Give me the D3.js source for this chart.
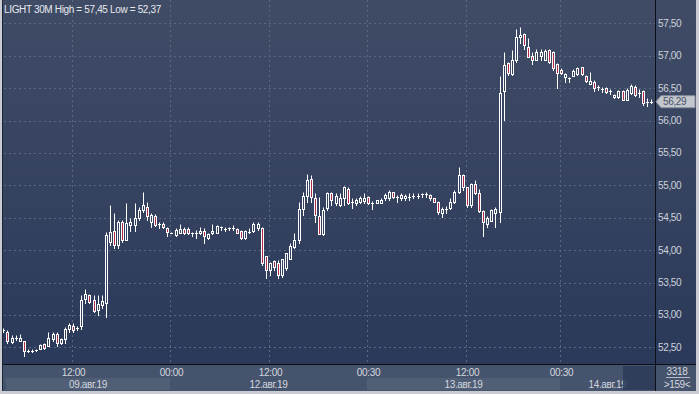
<!DOCTYPE html>
<html>
<head>
<meta charset="utf-8">
<script src="https://cdn.jsdelivr.net/npm/d3@7"></script>
<style>
  body { margin: 0; background: #c9ccd3; }
  text { font-family: "Liberation Sans", Arial, sans-serif; font-size: 10px; letter-spacing: -0.35px; }
</style>
</head>
<body>
<div id="chart"></div>
<script>
// 30M bars, LIGHT (crude)
const opens = [52.76,52.73,52.58,52.64,52.60,52.59,52.45,52.45,52.46,52.47,52.55,52.52,52.63,52.70,52.56,52.63,52.78,52.83,52.80,52.83,
  53.25,53.31,53.23,53.08,53.15,53.18,54.13,54.29,54.08,54.44,54.16,54.39,54.39,54.50,54.62,54.67,54.44,54.52,54.41,54.41,
  54.34,54.27,54.23,54.27,54.33,54.33,54.26,54.27,54.26,54.30,54.18,54.26,54.27,54.35,54.33,54.34,54.34,54.33,54.30,54.19,
  54.28,54.30,54.34,54.34,53.91,53.69,53.83,53.80,53.62,53.72,53.87,54.05,54.16,54.63,54.83,55.09,54.81,54.52,54.25,54.65,
  54.88,54.72,54.70,54.80,54.95,54.75,54.73,54.75,54.76,54.82,54.72,54.73,54.73,54.80,54.80,54.89,54.82,54.80,54.80,54.82,
  54.83,54.83,54.86,54.86,54.85,54.80,54.75,54.58,54.63,54.65,54.75,54.90,55.16,54.97,54.69,55.02,54.88,54.61,54.40,54.45,
  54.58,54.59,56.45,56.88,56.72,56.93,57.29,57.33,57.14,56.99,56.94,57.00,56.94,57.09,57.06,56.87,56.78,56.67,56.65,56.69,
  56.72,56.82,56.69,56.57,56.60,56.51,56.48,56.50,56.46,56.36,56.36,56.46,56.32,56.43,56.52,56.43,56.45,56.29,56.29];
const highs = [52.80,52.76,52.69,52.69,52.71,52.60,52.47,52.47,52.47,52.55,52.56,52.73,52.74,52.73,52.65,52.82,52.88,52.87,52.83,53.31,
  53.40,53.33,53.30,53.30,53.30,54.28,54.70,54.57,54.46,54.46,54.73,54.50,54.72,54.67,54.89,54.75,54.57,54.56,54.44,54.44,
  54.36,54.28,54.34,54.41,54.36,54.36,54.28,54.31,54.35,54.34,54.26,54.40,54.39,54.37,54.35,54.36,54.39,54.34,54.31,54.31,
  54.34,54.44,54.44,54.35,53.91,53.82,53.85,53.85,53.87,53.95,54.11,54.26,54.75,54.90,55.17,55.16,54.88,54.82,54.67,54.89,
  54.90,54.88,54.88,54.99,54.97,54.80,54.81,54.83,54.88,54.83,54.76,54.78,54.80,54.88,54.92,54.90,54.85,54.88,54.86,54.88,
  54.88,54.88,54.88,54.89,54.86,54.81,54.76,54.67,54.68,54.80,54.93,55.28,55.17,54.98,55.03,55.08,54.95,54.62,54.52,54.63,
  54.66,56.68,57.06,56.91,57.09,57.41,57.45,57.35,57.27,57.06,57.11,57.10,57.10,57.10,57.08,56.88,56.81,56.74,56.67,56.79,
  56.82,56.83,56.70,56.75,56.62,56.55,56.52,56.51,56.48,56.41,56.47,56.47,56.50,56.56,56.55,56.48,56.47,56.34,56.33];
const lows = [52.73,52.56,52.56,52.61,52.60,52.37,52.43,52.43,52.45,52.47,52.48,52.52,52.60,52.52,52.55,52.56,52.73,52.73,52.77,52.78,
  53.18,53.18,53.04,53.00,53.10,52.96,54.08,54.03,54.03,54.13,54.15,54.30,54.30,54.46,54.59,54.46,54.36,54.37,54.34,54.34,
  54.22,54.26,54.22,54.26,54.25,54.25,54.22,54.18,54.25,54.11,54.17,54.25,54.26,54.31,54.30,54.31,54.31,54.26,54.17,54.17,
  54.26,54.28,54.31,53.77,53.57,53.62,53.69,53.57,53.58,53.70,53.86,54.04,54.11,54.54,54.75,54.75,54.44,54.25,54.23,54.62,
  54.70,54.70,54.68,54.70,54.71,54.65,54.70,54.72,54.73,54.71,54.63,54.72,54.72,54.78,54.78,54.80,54.75,54.77,54.77,54.78,
  54.80,54.80,54.82,54.82,54.78,54.75,54.56,54.51,54.58,54.63,54.73,54.88,54.93,54.67,54.67,54.87,54.59,54.21,54.36,54.45,
  54.35,54.44,56.01,56.70,56.70,56.91,57.19,57.11,56.98,56.87,56.93,56.94,56.93,56.89,56.78,56.50,56.72,56.60,56.60,56.68,
  56.70,56.70,56.60,56.56,56.46,56.47,56.44,56.43,56.41,56.34,56.34,56.31,56.31,56.41,56.38,56.36,56.24,56.22,56.27];
const closes = [52.76,52.59,52.64,52.64,52.64,52.45,52.45,52.45,52.46,52.53,52.49,52.65,52.71,52.56,52.63,52.79,52.84,52.77,52.80,53.23,
  53.32,53.20,53.06,53.17,53.21,54.23,54.28,54.08,54.43,54.16,54.42,54.44,54.49,54.62,54.70,54.52,54.54,54.39,54.41,54.35,
  54.28,54.27,54.31,54.33,54.27,54.26,54.26,54.27,54.30,54.21,54.25,54.30,54.37,54.35,54.33,54.34,54.34,54.27,54.18,54.29,
  54.28,54.41,54.40,53.80,53.70,53.80,53.74,53.62,53.86,53.95,54.06,54.16,54.63,54.83,55.08,54.82,54.54,54.25,54.62,54.88,
  54.78,54.83,54.80,54.97,54.73,54.75,54.78,54.80,54.81,54.72,54.72,54.77,54.78,54.85,54.89,54.82,54.82,54.85,54.83,54.82,
  54.83,54.83,54.86,54.86,54.80,54.75,54.59,54.63,54.63,54.75,54.89,55.16,54.97,54.69,55.02,54.88,54.61,54.44,54.49,54.62,
  54.64,56.43,56.86,56.73,56.94,57.29,57.32,57.17,56.98,56.94,57.05,57.05,57.08,56.91,56.81,56.73,56.73,56.72,56.65,56.77,
  56.81,56.72,56.61,56.61,56.50,56.51,56.48,56.44,56.46,56.39,56.46,56.32,56.47,56.53,56.39,56.43,56.27,56.29,56.29];

const priceTicks = [52.5, 53, 53.5, 54, 54.5, 55, 55.5, 56, 56.5, 57, 57.5];
const timeTickIndex = [17, 41, 65, 89, 113, 136];
const timeTickText = ["12:00", "00:00", "12:00", "00:30", "12:00", "00:30"];
const dayStartIndex = [0, 41, 89, 136];
const dayLabels = ["09.авг.19", "12.авг.19", "13.авг.19", "14.авг.19"];
const titleText = "LIGHT 30M High = 57,45 Low = 52,37";
const totalBars = "3318";
const visibleBars = ">159<";
const lastPrice = 56.29;

const width = 699, height = 394;
const plotL = 2, plotR = 655, plotB = 364, axisB = 391, panelR = 696;

const fmt = v => d3.format(".2f")(v).replace(".", ",");

const svg = d3.select("#chart").append("svg")
  .attr("width", width).attr("height", height);

const defs = svg.append("defs");
const grad = defs.append("linearGradient").attr("id", "bg").attr("x1", 0).attr("y1", 0).attr("x2", 0).attr("y2", 1);
grad.append("stop").attr("offset", "0%").attr("stop-color", "#404c66");
grad.append("stop").attr("offset", "100%").attr("stop-color", "#2b395a");

// frame + backgrounds
svg.append("rect").attr("width", width).attr("height", height).attr("fill", "#c9ccd3");
svg.append("rect").attr("x", plotL).attr("y", 0).attr("width", panelR - plotL).attr("height", plotB)
  .attr("fill", "url(#bg)");
svg.append("rect").attr("x", plotL).attr("y", plotB).attr("width", panelR - plotL).attr("height", axisB - plotB)
  .attr("fill", "#46536c");

const x = d3.scaleLinear().domain([0, opens.length - 1]).range([3.3, 651.3]);
const y = d3.scaleLinear().domain([52.5, 57.5]).range([347.3, 23.3]);
const px = i => Math.round(x(i)) + 0.5;
const py = v => Math.round(y(v)) + 0.5;

// day bands on the axis strip
dayStartIndex.forEach((s, k) => {
  const x0 = k === 0 ? 6 : px(s) - 1.5;
  const x1 = k + 1 < dayStartIndex.length ? px(dayStartIndex[k + 1]) - 1.5 : plotR;
  if (k % 2 === 0) {
    svg.append("rect").attr("x", x0).attr("y", 378).attr("width", x1 - x0).attr("height", 12)
      .attr("fill", "#505e76");
  }
  svg.append("text").attr("x", (x0 + x1) / 2).attr("y", 387.5)
    .attr("text-anchor", "middle").attr("fill", "#d3d7df").text(dayLabels[k]);
});
// scroller box at the right end of the axis strip
svg.append("rect").attr("x", 623).attr("y", 366).attr("width", plotR - 623).attr("height", 24)
  .attr("fill", "#2d3b58").attr("opacity", 0.85);

// grid
const grid = svg.append("g").attr("stroke", "#5b6882").attr("stroke-dasharray", "2,3").attr("stroke-width", 1);
priceTicks.forEach(v => {
  grid.append("line").attr("x1", plotL + 2).attr("x2", plotR).attr("y1", py(v)).attr("y2", py(v));
});
timeTickIndex.forEach(i => {
  grid.append("line").attr("x1", px(i) - 1).attr("x2", px(i) - 1).attr("y1", 0).attr("y2", plotB);
});

// time tick labels
timeTickIndex.forEach((i, k) => {
  svg.append("text").attr("x", px(i)).attr("y", 375.5).attr("text-anchor", "middle")
    .attr("fill", "#d3d7df").text(timeTickText[k]);
});

// price axis labels
priceTicks.forEach(v => {
  svg.append("text").attr("x", 658).attr("y", y(v) + 3.5).attr("fill", "#cdd2db").text(fmt(v));
});

// candles
const candles = svg.append("g");
opens.forEach((o, i) => {
  const c = closes[i], h = highs[i], l = lows[i];
  const cx = px(i);
  const top = py(Math.max(o, c)), bot = py(Math.min(o, c));
  const up = c >= o;
  if (bot - top < 1) {
    candles.append("line").attr("x1", cx).attr("x2", cx).attr("y1", py(h)).attr("y2", py(l) + 0.5)
      .attr("stroke", "#ffffff");
    candles.append("line").attr("x1", cx - 1.5).attr("x2", cx + 1.5).attr("y1", top).attr("y2", top)
      .attr("stroke", "#ffffff");
    return;
  }
  if (py(h) < top) candles.append("line").attr("x1", cx).attr("x2", cx).attr("y1", py(h)).attr("y2", top)
    .attr("stroke", "#ffffff");
  if (py(l) > bot) candles.append("line").attr("x1", cx).attr("x2", cx).attr("y1", bot).attr("y2", py(l) + 0.5)
    .attr("stroke", "#ffffff");
  candles.append("rect").attr("x", cx - 1).attr("y", top).attr("width", 2).attr("height", bot - top)
    .attr("fill", up ? "#34415f" : "#b02a49").attr("stroke", "#ffffff").attr("stroke-width", 1);
});

// title
svg.append("text").attr("x", 4).attr("y", 13).attr("fill", "#e6e9ee").text(titleText);

// separators
svg.append("line").attr("x1", plotR + 0.5).attr("x2", plotR + 0.5).attr("y1", 0).attr("y2", axisB)
  .attr("stroke", "#0b0f18");
svg.append("line").attr("x1", plotL).attr("x2", panelR).attr("y1", plotB + 0.5).attr("y2", plotB + 0.5)
  .attr("stroke", "#0b0f18");
svg.append("line").attr("x1", plotL + 0.5).attr("x2", plotL + 0.5).attr("y1", 0).attr("y2", axisB)
  .attr("stroke", "#1c2438");

// last price marker
const ly = y(lastPrice);
svg.append("path")
  .attr("d", `M656,${ly} L661,${ly - 6} L695,${ly - 6} L695,${ly + 6} L661,${ly + 6} Z`)
  .attr("fill", "#c3c7ce").attr("stroke", "#8a909c");
svg.append("text").attr("x", 663).attr("y", ly + 3.5).attr("fill", "#4a5468").text(fmt(lastPrice));

// bar counters
svg.append("text").attr("x", 677).attr("y", 375).attr("text-anchor", "middle").attr("fill", "#d3d7df").text(totalBars);
svg.append("line").attr("x1", 666).attr("x2", 690).attr("y1", 377.5).attr("y2", 377.5).attr("stroke", "#b8bec9");
svg.append("text").attr("x", 677).attr("y", 388).attr("text-anchor", "middle").attr("fill", "#d3d7df").text(visibleBars);
</script>
</body>
</html>
